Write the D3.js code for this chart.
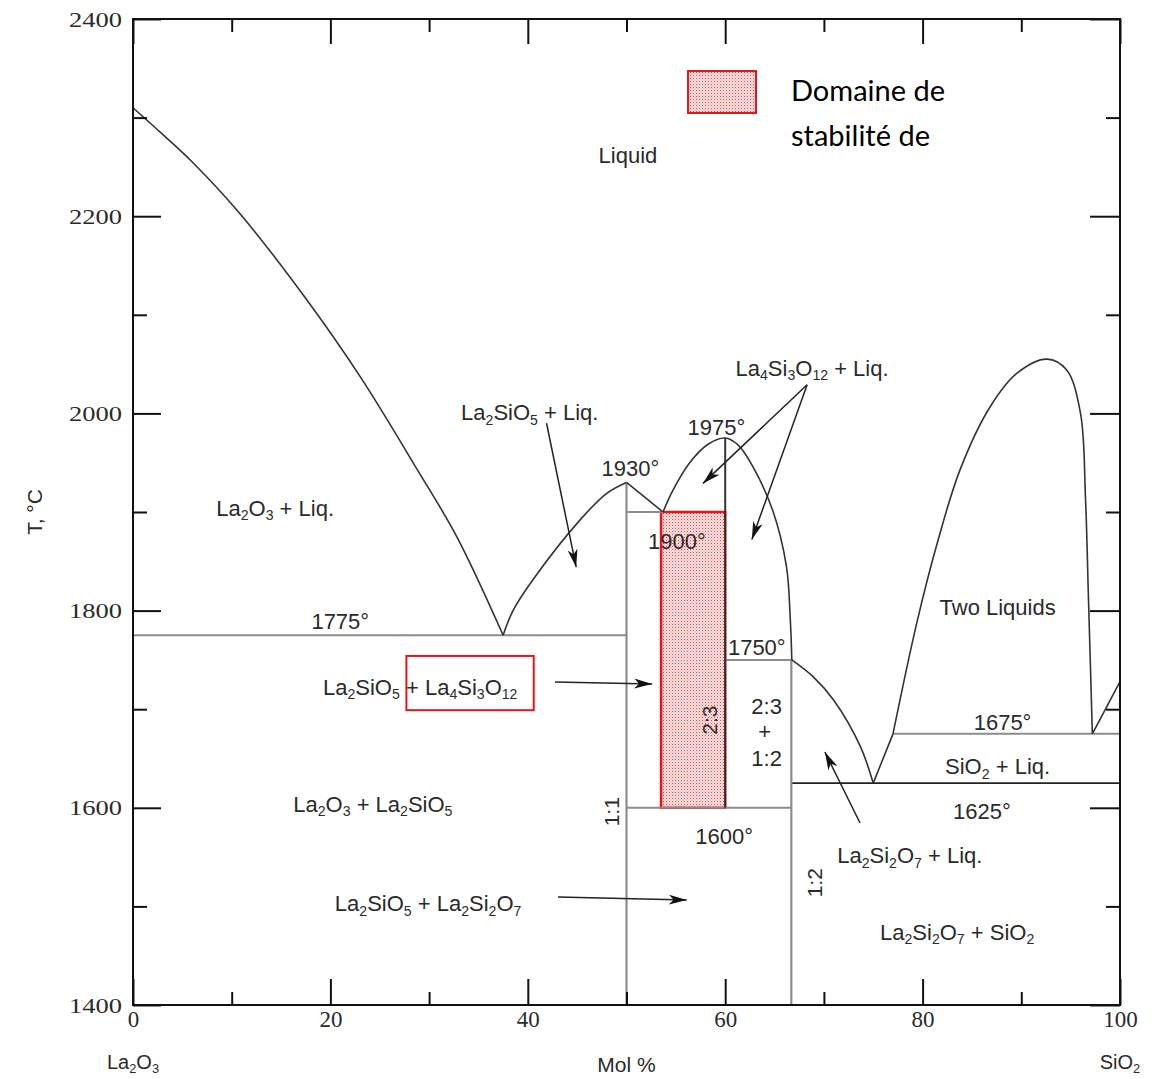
<!DOCTYPE html>
<html><head><meta charset="utf-8">
<script src="https://cdn.jsdelivr.net/npm/d3@7"></script>
<style>body{margin:0;background:#fff}svg{display:block}</style>
</head><body>
<svg id="c" width="1160" height="1079"></svg>
<script>
// ---------- data ----------
const xTickValues = [0, 20, 40, 60, 80, 100];
const xMinorTicks = [10, 30, 50, 70, 90];
const yTickValues = [1400, 1600, 1800, 2000, 2200, 2400];
const yMinorTicks = [1500, 1700, 1900, 2100, 2300];

// liquidus / boundary curves  [mol% SiO2, T °C]
const liqLa2O3 = [[0,2310],[3,2283],[6,2255],[10.8,2203],[17.4,2118],[23.1,2036],[28.8,1943],[32.8,1875],[37.5,1775]];
const liqLa2SiO5 = [[37.5,1775],[38.5,1800],[40.5,1831],[45.3,1892],[48,1919],[50,1930]];
const liqPeritectic = [[50,1930],[53.7,1900]];
const liqLa4Si3O12 = [[53.7,1900],[54.7,1922],[56.4,1950],[58.3,1969],[60,1975],[61.3,1968],[62.8,1946],[64.8,1902],[66.2,1845],[66.6,1790],[66.75,1750]];
const liqLa2Si2O7 = [[66.75,1750],[68.9,1733],[71,1709],[73.7,1662],[75,1625]];
const liqSiO2Low = [[75,1625],[77,1675]];
const miscibilityGap = [[77,1675],[79.4,1787],[81.5,1869],[83.8,1943],[86.8,2006],[89.6,2041],[92.6,2055],[94.6,2044],[96,2000],[96.5,1915],[96.8,1814],[97.2,1675]];
const liqSiO2High = [[97.2,1675],[100,1728]];

// isotherms [T, from, to]
const grayIsotherms = [[1775,0,50],[1900,50,53.7],[1750,60,66.7],[1600,50,66.7],[1675,77,100]];
const darkIsotherms = [[1625,66.7,100]];
// compound verticals [x, Tlow, Thigh]
const grayVerticals = [[50,1400,1930],[66.7,1400,1750]];
const darkVerticals = [[60,1600,1975]];

// stability domain of La4Si3O12 (2:3)
const stabilityDomain = {x0: 53.5, x1: 60, T0: 1600, T1: 1900};

// labels [text, x, T]  (_n = subscript)
const phaseLabels = [
  ["Liquid", 50.15, 2262],
  ["La_2O_3 + Liq.", 14.4, 1904],
  ["La_2SiO_5 + Liq.", 40.2, 2001],
  ["La_4Si_3O_12 + Liq.", 68.8, 2046],
  ["1975°", 59.1, 1986],
  ["1930°", 50.4, 1945],
  ["1900°", 55.1, 1871],
  ["1775°", 21.0, 1789],
  ["1750°", 63.2, 1763],
  ["Two Liquids", 87.6, 1804],
  ["1675°", 88.1, 1687],
  ["SiO_2 + Liq.", 87.6, 1642],
  ["1625°", 86.0, 1597],
  ["La_2SiO_5 + La_4Si_3O_12", 29.1, 1723],
  ["La_2O_3 + La_2SiO_5", 24.3, 1604],
  ["La_2SiO_5 + La_2Si_2O_7", 29.9, 1503],
  ["1600°", 59.9, 1571],
  ["2:3", 64.2, 1703],
  ["+", 64.0, 1678],
  ["1:2", 64.2, 1651],
  ["La_2Si_2O_7 + Liq.", 78.7, 1552],
  ["La_2Si_2O_7 + SiO_2", 83.5, 1474]
];
const rotatedLabels = [["2:3", 58.5, 1689], ["1:1", 48.5, 1596], ["1:2", 69.1, 1524]];
// highlight box around La4Si3O12 label [x0, x1, T0, T1]
const highlightBox = [27.7, 40.6, 1699, 1754];

// arrows [[x,T] from, [x,T] to]
const arrows = [
  [[41.9,1990],[44.9,1844]],
  [[68.3,2029],[57.75,1929]],
  [[68.3,2029],[62.7,1872]],
  [[42.75,1727.6],[52.6,1725.6]],
  [[43.06,1509.5],[56.1,1506.5]],
  [[73.66,1584.6],[70.1,1656.6]]
];

const axisLabels = {x: "Mol %", left: "La_2O_3", right: "SiO_2", y: "T, °C"};
const legendLines = ["Domaine de", "stabilité de"];

// ---------- drawing ----------
const svg = d3.select("#c");
const x = d3.scaleLinear([0, 100], [133, 1120]);
const y = d3.scaleLinear([1400, 2400], [1005, 19]);
const SANS = "'Liberation Sans', Arial, Helvetica, sans-serif";
const SERIF = "'Liberation Serif', 'Times New Roman', 'DejaVu Serif', serif";
const TXT = "#2a2a2a";

const defs = svg.append("defs");
const pat = defs.append("pattern").attr("id", "dots").attr("patternUnits", "userSpaceOnUse")
  .attr("width", 3).attr("height", 3);
pat.append("rect").attr("width", 3).attr("height", 3).attr("fill", "#fde6e6");
pat.append("rect").attr("x", 0).attr("y", 0).attr("width", 1).attr("height", 1).attr("fill", "#e8403c");
pat.append("rect").attr("x", 1.5).attr("y", 1.5).attr("width", 1).attr("height", 1).attr("fill", "#f07070");
defs.append("marker").attr("id", "ah").attr("viewBox", "-18 -6 20 12")
  .attr("refX", 0).attr("refY", 0).attr("markerWidth", 20).attr("markerHeight", 12)
  .attr("markerUnits", "userSpaceOnUse").attr("orient", "auto")
  .append("path").attr("d", "M0,0 L-18,-5 L-13,0 L-18,5 Z").attr("fill", "#111");

// stability domain
svg.append("rect")
  .attr("x", x(stabilityDomain.x0)).attr("y", y(stabilityDomain.T1))
  .attr("width", x(stabilityDomain.x1) - x(stabilityDomain.x0))
  .attr("height", y(stabilityDomain.T0) - y(stabilityDomain.T1))
  .attr("fill", "url(#dots)").attr("stroke", "#e8141c").attr("stroke-width", 2.5);

// isotherms & verticals
const lines = svg.append("g").attr("fill", "none");
grayIsotherms.forEach(([T, a, b]) => lines.append("line").attr("x1", x(a)).attr("x2", x(b))
  .attr("y1", y(T)).attr("y2", y(T)).attr("stroke", "#8c8c8c").attr("stroke-width", 2));
darkIsotherms.forEach(([T, a, b]) => lines.append("line").attr("x1", x(a)).attr("x2", x(b))
  .attr("y1", y(T)).attr("y2", y(T)).attr("stroke", "#222").attr("stroke-width", 1.8));
grayVerticals.forEach(([v, t0, t1]) => lines.append("line").attr("x1", x(v)).attr("x2", x(v))
  .attr("y1", y(t0)).attr("y2", y(t1)).attr("stroke", "#8c8c8c").attr("stroke-width", 2.2));
darkVerticals.forEach(([v, t0, t1]) => lines.append("line").attr("x1", x(v)).attr("x2", x(v))
  .attr("y1", y(t0)).attr("y2", y(t1)).attr("stroke", "#333").attr("stroke-width", 2));

// curves
const curve = d3.line().x(d => x(d[0])).y(d => y(d[1])).curve(d3.curveCatmullRom.alpha(0.5));
[liqLa2O3, liqLa2SiO5, liqPeritectic, liqLa4Si3O12, liqLa2Si2O7, liqSiO2Low, miscibilityGap, liqSiO2High]
  .forEach(c => lines.append("path").attr("d", curve(c)).attr("stroke", "#333").attr("stroke-width", 1.6));

// axes
const fmt = d3.format("d");
function styleAxis(g) { g.select(".domain").remove(); g.selectAll(".tick line").attr("stroke", "#111").attr("stroke-width", 2); }
svg.append("g").attr("transform", `translate(0,${y(1400)})`)
  .call(d3.axisBottom(x).tickValues(xTickValues).tickSize(-26).tickPadding(6).tickFormat(fmt))
  .call(styleAxis)
  .call(g => g.selectAll("text").style("font-family", SERIF).style("font-size", "23px").attr("fill", TXT));
svg.append("g").attr("transform", `translate(0,${y(1400)})`)
  .call(d3.axisBottom(x).tickValues(xMinorTicks).tickSize(-13).tickFormat(""))
  .call(styleAxis);
svg.append("g").attr("transform", `translate(0,${y(2400)})`)
  .call(d3.axisTop(x).tickValues(xTickValues).tickSize(-25).tickFormat("")).call(styleAxis);
svg.append("g").attr("transform", `translate(0,${y(2400)})`)
  .call(d3.axisTop(x).tickValues(xMinorTicks).tickSize(-13).tickFormat("")).call(styleAxis);
svg.append("g").attr("transform", `translate(${x(0)},0)`)
  .call(d3.axisLeft(y).tickValues(yTickValues).tickSize(-28).tickPadding(11).tickFormat(fmt))
  .call(styleAxis)
  .call(g => g.selectAll("text").style("font-family", SERIF).style("font-size", "22px")
    .attr("fill", TXT).attr("textLength", 53).attr("lengthAdjust", "spacingAndGlyphs"));
svg.append("g").attr("transform", `translate(${x(0)},0)`)
  .call(d3.axisLeft(y).tickValues(yMinorTicks).tickSize(-14).tickFormat("")).call(styleAxis);
svg.append("g").attr("transform", `translate(${x(100)},0)`)
  .call(d3.axisRight(y).tickValues(yTickValues).tickSize(-30).tickFormat("")).call(styleAxis);
svg.append("g").attr("transform", `translate(${x(100)},0)`)
  .call(d3.axisRight(y).tickValues(yMinorTicks).tickSize(-14).tickFormat("")).call(styleAxis);

// frame
svg.append("rect").attr("x", x(0)).attr("y", y(2400)).attr("width", x(100) - x(0))
  .attr("height", y(1400) - y(2400)).attr("fill", "none").attr("stroke", "#111").attr("stroke-width", 2);

// rich text helper
function rich(t, str, size) {
  const parts = str.split(/_(\d+)/);
  let shifted = false;
  const sh = size * 0.2;
  parts.forEach((p, i) => {
    if (!p) return;
    const ts = t.append("tspan").text(p);
    if (i % 2 === 1) {
      ts.attr("font-size", size * 0.64);
      if (!shifted) { ts.attr("dy", sh); shifted = true; }
    } else if (shifted) { ts.attr("dy", -sh); shifted = false; }
  });
  return t;
}

// labels
const lab = svg.append("g").style("font-family", SANS).attr("fill", TXT).attr("text-anchor", "middle");
phaseLabels.forEach(([s, lx, lt]) => {
  const t = lab.append("text").attr("x", x(lx)).attr("y", y(lt) + 8).attr("font-size", 22);
  rich(t, s, 22);
});
rotatedLabels.forEach(([s, lx, lt]) => {
  lab.append("text").attr("transform", `translate(${x(lx) + 7},${y(lt)}) rotate(-90)`)
    .attr("font-size", 21).text(s);
});

// highlight box
svg.append("rect").attr("x", x(highlightBox[0])).attr("y", y(highlightBox[3]))
  .attr("width", x(highlightBox[1]) - x(highlightBox[0]))
  .attr("height", y(highlightBox[2]) - y(highlightBox[3]))
  .attr("fill", "none").attr("stroke", "#e8141c").attr("stroke-width", 2);

// arrows
arrows.forEach(([a, b]) => svg.append("line")
  .attr("x1", x(a[0])).attr("y1", y(a[1])).attr("x2", x(b[0])).attr("y2", y(b[1]))
  .attr("stroke", "#222").attr("stroke-width", 1.5).attr("marker-end", "url(#ah)"));

// axis titles
const at = svg.append("g").style("font-family", SANS).attr("fill", TXT).attr("text-anchor", "middle");
rich(at.append("text").attr("x", x(0)).attr("y", 1069).attr("font-size", 20), axisLabels.left, 20);
rich(at.append("text").attr("x", x(100)).attr("y", 1069).attr("font-size", 20), axisLabels.right, 20);
at.append("text").attr("x", x(50)).attr("y", 1072).attr("font-size", 21).text(axisLabels.x);
at.append("text").attr("transform", `translate(42,${y(1900)}) rotate(-90)`).attr("font-size", 21).text(axisLabels.y);

// legend
svg.append("rect").attr("x", 688).attr("y", 71).attr("width", 68).attr("height", 42)
  .attr("fill", "url(#dots)").attr("stroke", "#e8141c").attr("stroke-width", 2);
legendLines.forEach((s, i) => svg.append("text").attr("x", 791).attr("y", 101 + i * 45)
  .style("font-family", "Lato, 'Open Sans', sans-serif").attr("font-size", 29).attr("fill", "#000").text(s));
</script>
</body></html>
